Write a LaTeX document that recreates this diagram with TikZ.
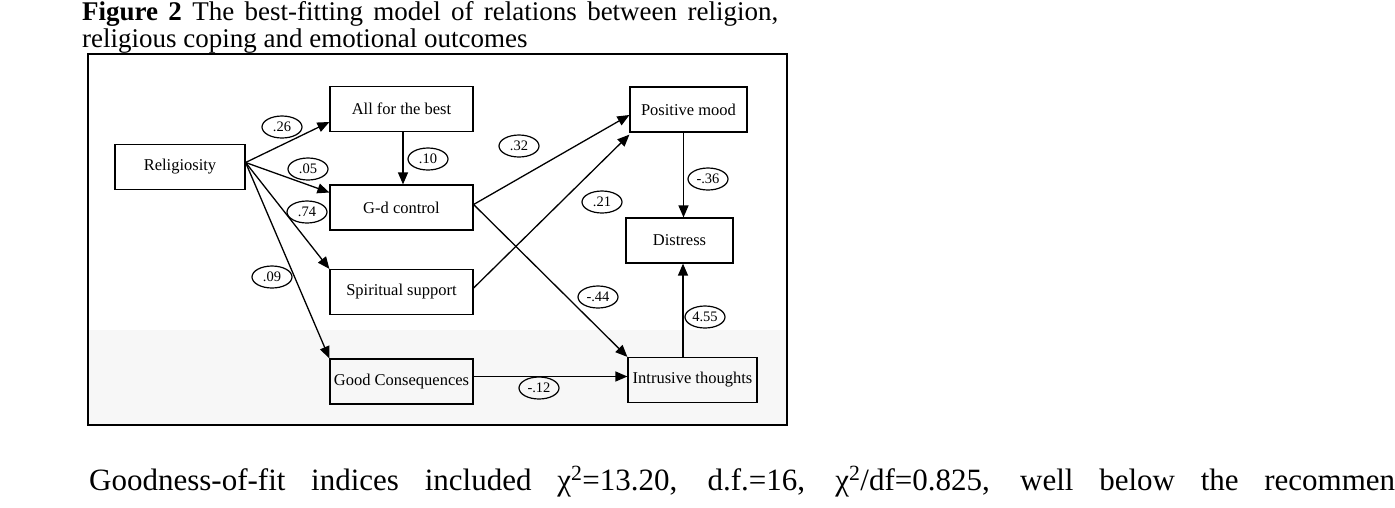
\documentclass[tikz,border=0pt]{standalone}
\usepackage{fontspec}
\setmainfont{Liberation Serif}
\usetikzlibrary{arrows.meta,shapes.geometric}
\begin{document}
\begin{tikzpicture}[x=1pt,y=-1pt,
  var/.style={draw, line width=1.2pt, minimum height=45pt, inner sep=0pt,
              font=\fontsize{16.5}{19}\selectfont},
  coef/.style={draw, ellipse, line width=1.2pt, minimum width=40pt, minimum height=22pt,
               inner sep=0pt, font=\fontsize{14.5}{16}\selectfont},
  link/.style={line width=1.3pt, -{Triangle[length=12pt,width=10pt]}},
  captext/.style={anchor=base west, inner sep=0pt, font=\fontsize{27}{31}\selectfont},
]
\useasboundingbox (0,0) rectangle (1395,507);

% caption
\node[captext] (cap1) at (82,20)
  {\makebox[696pt][s]{\textbf{Figure 2} The best-fitting model of relations between religion,}};
\node[captext] (cap2) at (82,47) {religious coping and emotional outcomes};

% figure frame with faint lower tint
\fill[black!3] (89,330) rectangle (786,424);
\draw[line width=1.4pt] (88,54) rectangle (787,425);

% variables
\node[var, minimum width=130pt] (rel) at (180,167) {Religiosity};
\node[var, minimum width=143pt] (afb) at (401.5,109) {All for the best};
\node[var, minimum width=143pt] (gdc) at (401.5,207.5) {G-d control};
\node[var, minimum width=143pt] (ss)  at (401.5,292) {Spiritual support};
\node[var, minimum width=143pt] (gc)  at (401.5,381.5) {Good Consequences};
\node[var, minimum width=117pt] (pm)  at (688.5,109.5) {Positive mood};
\node[var, minimum width=107pt] (dis) at (679.5,240.5) {Distress};
\node[var, minimum width=129pt] (it)  at (692.5,380) {Intrusive thoughts};

% paths
\coordinate (rs) at ([yshift=4.5pt]rel.east);
\draw[link] (rs) -- ([yshift=-13pt]afb.west);
\draw[link] (rs) -- ([yshift=15pt]gdc.west);
\draw[link] (rs) -- (ss.north west);
\draw[link] (rs) -- (gc.north west);
\draw[link] ([xshift=1.5pt]afb.south) -- ([xshift=1.5pt]gdc.north);
\coordinate (gs) at ([yshift=3pt]gdc.east);
\draw[link] (gs) -- ([yshift=-5.5pt]pm.west);
\draw[link] (gs) -- (it.north west);
\draw[link] ([yshift=4pt]ss.east) -- ([yshift=-2pt]pm.south west);
\draw[link] ([yshift=5pt]gc.east) -- ([yshift=5pt]gc.east -| it.west);
\draw[link] ([xshift=-5pt]pm.south) -- ([xshift=-5pt]pm.south |- dis.north);
\draw[link] ([xshift=-9.5pt]it.north) -- ([xshift=-9.5pt]it.north |- dis.south);

% coefficients
\node[coef] (c1)  at (282,127) {.26};
\node[coef] (c2)  at (308,169) {.05};
\node[coef] (c3)  at (307,212) {.74};
\node[coef] (c4)  at (272,277) {.09};
\node[coef] (c5)  at (428,159) {.10};
\node[coef] (c6)  at (519,146) {.32};
\node[coef] (c7)  at (602,202) {.21};
\node[coef] (c8)  at (598,297) {-.44};
\node[coef] (c9)  at (539,388) {-.12};
\node[coef] (c10) at (708,179) {-.36};
\node[coef] (c11) at (705,317) {4.55};

% running text below the figure
\node[anchor=base west, inner sep=0pt, font=\fontsize{31}{36}\selectfont] (body) at (89,490)
  {\makebox[1306pt][s]{Goodness-of-fit indices included χ\textsuperscript{2}=13.20, d.f.=16, χ\textsuperscript{2}/df=0.825, well below the recommen}};
\end{tikzpicture}
\end{document}
